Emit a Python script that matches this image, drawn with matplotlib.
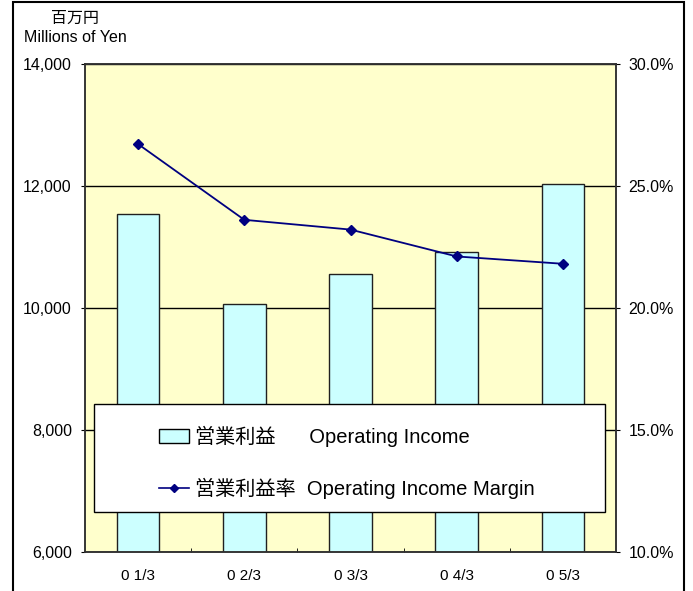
import matplotlib
matplotlib.use('Agg')
import matplotlib.pyplot as plt
from matplotlib.patches import Rectangle
from matplotlib.lines import Line2D
from matplotlib.ticker import FuncFormatter

# フォント（ラテン文字はLiberation、和文はNotoにフォールバック）
plt.rcParams['font.family'] = ['Liberation Sans', 'Noto Sans CJK JP']

years = ['0 1/3', '0 2/3', '0 3/3', '0 4/3', '0 5/3']
income = [11530, 10055, 10550, 10920, 12020]      # 営業利益（百万円）
margin = [26.7, 23.6, 23.2, 22.1, 21.8]           # 営業利益率（%）
label_bar = '営業利益      Operating Income'
label_line = '営業利益率  Operating Income Margin'

fig = plt.figure(figsize=(6.93, 5.91), dpi=100)
ax = fig.add_axes([85/693, 1-552/591, 531/693, 488.5/591])
x = list(range(len(years)))

ax.bar(x, income, width=0.4, color='#CCFFFF', edgecolor='#202020', lw=1, zorder=2)
ax.set_xlim(-0.5, 4.5)
ax.set_ylim(6000, 14000)
ax.set_facecolor('#FFFFCC')
ax.set_yticks(range(6000, 14001, 2000))
ax.yaxis.set_major_formatter(FuncFormatter(lambda v, p: f'{int(v):,}'))
ax.grid(axis='y', color='black', lw=1)
ax.set_axisbelow(True)
ax.tick_params(axis='y', direction='out', length=3, pad=6.5, labelsize=11.5)

ax.set_xticks(x)
ax.set_xticklabels(years, fontsize=11)
ax.tick_params(axis='x', which='major', length=0, pad=12.5)
ax.set_xticks([0.5, 1.5, 2.5, 3.5], minor=True)
ax.tick_params(axis='x', which='minor', direction='in', length=3)
for s in ax.spines.values():
    s.set_color('#303030')
    s.set_linewidth(1.1)

ax2 = ax.twinx()
ax2.plot(x, margin, color='#000080', marker='D', ms=5, lw=1.3, zorder=3)
ax2.set_ylim(10, 30)
ax2.set_yticks(range(10, 31, 5))
ax2.yaxis.set_major_formatter(FuncFormatter(lambda v, p: f'{v:.1f}%'))
ax2.tick_params(axis='y', direction='out', length=3, pad=6, labelsize=11.5)
for s in ax2.spines.values():
    s.set_color('#303030')
    s.set_linewidth(1.1)

# 凡例（枠は別に描く）
ax2.add_patch(Rectangle((0.017, 0.082), 0.962, 0.221, transform=ax2.transAxes,
                        facecolor='white', edgecolor='black', lw=1, zorder=5))
h1 = Rectangle((0, 0), 1, 1, facecolor='#CCFFFF', edgecolor='black', lw=1)
h2 = Line2D([], [], color='#000080', marker='D', ms=4, lw=1.2)
leg = ax2.legend([h1, h2], [label_bar, label_line], loc='upper left',
                 bbox_to_anchor=(0.1394, 0.259), frameon=False, fontsize=14.5,
                 borderpad=0, borderaxespad=0, handlelength=1.5,
                 handletextpad=0.3, labelspacing=1.55)
leg.set_zorder(6)

fig.text(75/693, 1-18/591, '百万円', ha='center', va='center', fontsize=11.5)
fig.text(75/693, 1-37/591, 'Millions of Yen', ha='center', va='center', fontsize=11.5)

# 外枠
fig.patches.append(Rectangle((13/693, -0.05), 671/693, 1.05-1.5/591,
                             transform=fig.transFigure, fill=False,
                             edgecolor='black', lw=1.5))

fig.savefig('out.png', dpi=100)
